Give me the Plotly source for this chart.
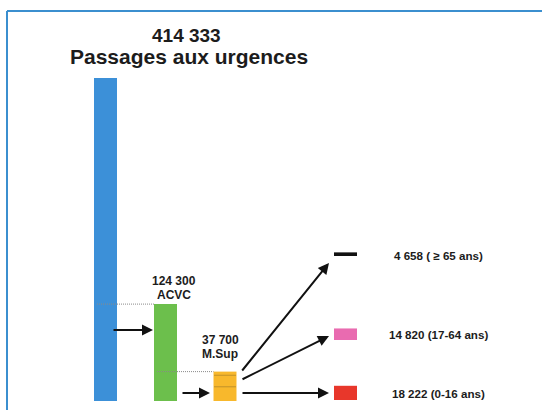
import plotly.graph_objects as go

# --- data -------------------------------------------------------------
total_label = "Passages aux urgences"
total_visits = 414333
acvc_label = "ACVC"
acvc_visits = 124300
msup_label = "M.Sup"
msup_visits = 37700
age_groups = ["0-16 ans", "17-64 ans", "\u2265 65 ans"]
age_counts = [18222, 14820, 4658]

# --- layout helpers ---------------------------------------------------
W, H = 542, 410
Y0_PX, YTOP_PX = 401, 78          # pixel rows of 0 and of the total
k = (Y0_PX - YTOP_PX) / total_visits   # pixels per visit
y_min = -(H - Y0_PX) / k
y_max = y_min + H / k


def yv(px):
    """Pixel row -> value on the y axis."""
    return (Y0_PX - px) / k


def fmt(n):
    return f"{n:,}".replace(",", " ")


BAR_W = 23
X_TOTAL, X_ACVC, X_MSUP, X_AGE = 105.5, 165.5, 225, 345.5
age_bases = [yv(400), yv(340), yv(256)]
age_colors = ["#e8372b", "#e96bb0", "#111111"]
age_label_rows = [393, 334, 255]

FONT = "Liberation Sans"
INK = "#1c1c1c"

fig = go.Figure()

for x, v, c in [(X_TOTAL, total_visits, "#3c90d8"),
                (X_ACVC, acvc_visits, "#6cbf4c"),
                (X_MSUP, msup_visits, "#f8b82c")]:
    fig.add_trace(go.Bar(x=[x], y=[v], base=[0], width=[BAR_W],
                         marker=dict(color=c, line=dict(width=0)),
                         hoverinfo="skip"))

fig.add_trace(go.Bar(x=[X_AGE] * 3, y=age_counts, base=age_bases,
                     width=[BAR_W] * 3,
                     marker=dict(color=age_colors, line=dict(width=0)),
                     hoverinfo="skip"))

shapes = []
# dotted guides at the top of the ACVC and M.Sup bars
shapes.append(dict(type="line", xref="x", yref="y",
                   x0=97, x1=X_ACVC - BAR_W / 2, y0=acvc_visits, y1=acvc_visits,
                   line=dict(color="#8a8a8a", width=1, dash="1px,1px")))
shapes.append(dict(type="line", xref="x", yref="y",
                   x0=157, x1=X_MSUP - BAR_W / 2, y0=msup_visits, y1=msup_visits,
                   line=dict(color="#8a8a8a", width=1, dash="1px,1px")))
# stacked age splits inside the M.Sup bar
cum = 0
for n in age_counts[:-1]:
    cum += n
    shapes.append(dict(type="line", xref="x", yref="y",
                       x0=X_MSUP - BAR_W / 2 + 1, x1=X_MSUP + BAR_W / 2 - 1,
                       y0=cum, y1=cum,
                       line=dict(color="#8a6a28", width=1, dash="1px,1px")))
# frame
shapes.append(dict(type="line", xref="paper", yref="paper",
                   x0=7 / W, x1=1, y0=1 - 11 / H, y1=1 - 11 / H,
                   line=dict(color="#3b8fcf", width=2)))
shapes.append(dict(type="line", xref="paper", yref="paper",
                   x0=7 / W, x1=7 / W, y0=0, y1=1 - 11 / H,
                   line=dict(color="#3b8fcf", width=2)))

annotations = []


def arrow(x0, y0px, x1, y1px):
    annotations.append(dict(x=x1, y=yv(y1px), ax=x0, ay=yv(y0px),
                            xref="x", yref="y", axref="x", ayref="y",
                            showarrow=True, arrowhead=2, arrowsize=1.1,
                            arrowwidth=2, arrowcolor="#111111", text=""))


arrow(112, 330, 153, 330)
arrow(181, 393, 210, 393)
arrow(241, 393, 329, 393)
arrow(241, 380, 329, 336)
arrow(241, 372, 329, 263)


def label(x, ypx, text, size, weight="bold"):
    annotations.append(dict(x=x, y=yv(ypx), xref="x", yref="y", text=text,
                            showarrow=False, xanchor="center", yanchor="middle",
                            font=dict(family=FONT, size=size, color=INK,
                                      weight=weight)))


label(186, 35, fmt(total_visits), 19)
label(189, 56, total_label, 21)
label(174, 281, fmt(acvc_visits), 12)
label(174, 295, acvc_label, 12)
label(220, 340, fmt(msup_visits), 12)
label(220, 354, msup_label, 12)

age_texts = [f"{fmt(age_counts[0])} ({age_groups[0]})",
             f"{fmt(age_counts[1])} ({age_groups[1]})",
             f"{fmt(age_counts[2])} ( {age_groups[2]})"]
for t, row in zip(age_texts, age_label_rows):
    label(438, row, t, 11.6)

fig.update_layout(
    width=W, height=H,
    margin=dict(l=0, r=0, t=0, b=0),
    paper_bgcolor="white", plot_bgcolor="white",
    showlegend=False, barmode="overlay",
    xaxis=dict(range=[0, W], visible=False, fixedrange=True),
    yaxis=dict(range=[y_min, y_max], visible=False, fixedrange=True),
    shapes=shapes, annotations=annotations,
)

fig.write_html("out.html")
